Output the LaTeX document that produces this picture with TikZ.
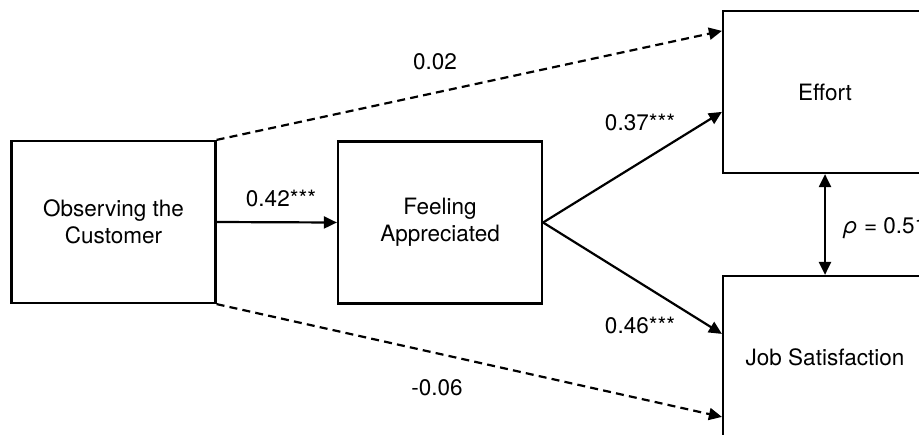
\documentclass[tikz,border=0pt]{standalone}
\usepackage{fontspec}
\setmainfont{TeX Gyre Heros}
\usetikzlibrary{arrows.meta,calc}
\tikzset{
  box/.style={draw, line width=1.1pt, minimum width=102pt, minimum height=81pt, inner sep=0pt, align=center, font=\fontsize{11.25}{13.6}\selectfont},
  lbl/.style={inner sep=0pt, font=\fontsize{11.25}{13.6}\selectfont},
  tip/.tip={Triangle[length=6.5pt,width=6pt]},
  conn/.style={line width=1.1pt, -tip},
  dconn/.style={conn, dash pattern=on 4pt off 2.6pt},
}
\begin{document}
\begin{tikzpicture}[x=0.5pt,y=-0.5pt]
\useasboundingbox (0,0) rectangle (919,434);
\begin{scope}
\clip (0,0) rectangle (919,434);
\node[box] (obs) at (113.5,222) {Observing the\\Customer};
\node[box] (feel) at (440,222.5) {Feeling\\Appreciated};
\node[box] (eff) at (825,92) {Effort};
\node[box] (js) at (825,357) {Job Satisfaction};
\coordinate (effA) at ($(eff.north west)+(0,21)$);
\coordinate (effB) at ($(eff.north west)+(0,102)$);
\coordinate (jsA) at ($(js.north west)+(0,59)$);
\coordinate (jsB) at ($(js.north west)+(0,142)$);
\draw[conn] (obs.east) -- (feel.west);
\draw[dconn] (obs.north east) -- (effA);
\draw[dconn] (obs.south east) -- (jsB);
\draw[conn] (feel.east) -- (effB);
\draw[conn] (feel.east) -- (jsA);
\draw[line width=1.1pt, tip-tip] (eff.south) -- (js.north);
\node[lbl] (l1) at (281,198) {0.42***};
\node[lbl] (l2) at (435,62) {0.02};
\node[lbl] (l3) at (437,388) {-0.06};
\node[lbl] (l4) at (640,122) {0.37***};
\node[lbl] (l5) at (640,325) {0.46***};
\node[lbl, anchor=west] (l6) at (843,228) {{\itshape ρ} = 0.51***};
\end{scope}
\end{tikzpicture}
\end{document}
